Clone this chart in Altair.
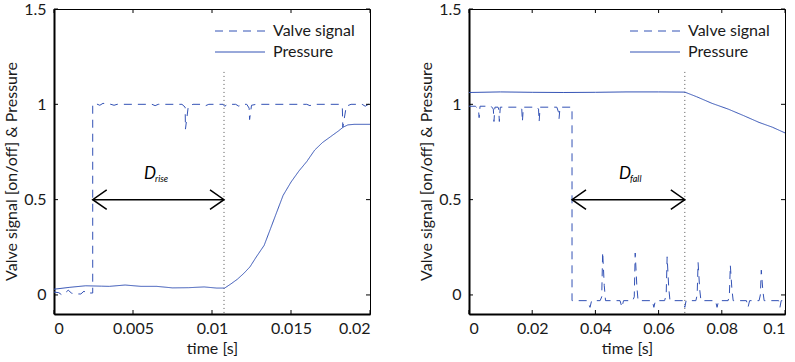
import altair as alt
import pandas as pd

BLUE = "#3352b5"
FONT = "Lato"
TXT = "#1a1a1a"
W, H = 316, 305

# ---------------- data ----------------
# left panel (rise)
lv_t = [0, 0.0003, 0.0005, 0.0007, 0.0009, 0.0011, 0.0013, 0.0017, 0.0019, 0.0021, 0.0023, 0.00245, 0.00245,
        0.0026, 0.0029, 0.0031, 0.0036, 0.0038, 0.004, 0.0062, 0.0064, 0.0066, 0.0081, 0.0083, 0.00832, 0.0085,
        0.0088, 0.0094, 0.0096, 0.0098, 0.0107, 0.0108, 0.011, 0.0115, 0.0117, 0.0119, 0.0122, 0.01235, 0.01238,
        0.0125, 0.0128, 0.016, 0.0162, 0.0164, 0.0181, 0.01825, 0.01828, 0.0185, 0.0188, 0.0195, 0.0197, 0.0199, 0.02]
lv_v = [0.015, 0.012, 0.0, 0.01, 0.025, 0.01, 0.005, 0.005, 0.02, 0.005, 0.01, 0.01, 1.0,
        1.005, 0.995, 1.005, 1.0, 0.995, 1.0, 1.0, 0.993, 1.0, 1.0, 0.985, 0.87, 0.99,
        1.0, 1.0, 0.993, 1.0, 1.0, 0.99, 1.0, 1.0, 0.99, 1.0, 1.0, 0.98, 0.92,
        0.995, 1.0, 1.0, 0.993, 1.0, 1.0, 0.98, 0.88, 0.99, 1.0, 1.0, 0.99, 1.0, 1.0]
lp_t = [0, 0.001, 0.002, 0.003, 0.0035, 0.0045, 0.0055, 0.0065, 0.0075, 0.0085, 0.0095, 0.0103, 0.0108,
        0.0112, 0.0116, 0.012, 0.0124, 0.0128, 0.0133, 0.0137, 0.0141, 0.0145, 0.015, 0.0155, 0.016, 0.0165,
        0.017, 0.0175, 0.018, 0.0183, 0.0186, 0.019, 0.02]
lp_v = [0.03, 0.04, 0.048, 0.046, 0.045, 0.052, 0.045, 0.045, 0.037, 0.038, 0.042, 0.036, 0.036,
        0.058, 0.082, 0.112, 0.147, 0.199, 0.26, 0.347, 0.435, 0.522, 0.592, 0.65, 0.70, 0.76,
        0.80, 0.83, 0.86, 0.88, 0.892, 0.895, 0.895]

# right panel (fall)
rv_t = [0, 0.002, 0.003, 0.0032, 0.0035, 0.007, 0.0077, 0.0079, 0.0082, 0.0092, 0.0094, 0.0096, 0.0099,
        0.0162, 0.0167, 0.0169, 0.0172, 0.0215, 0.022, 0.0222, 0.0225, 0.0278, 0.0283, 0.0285, 0.0288,
        0.0326, 0.0326,
        0.0375, 0.0383, 0.0388, 0.0415, 0.042, 0.0423, 0.0428, 0.0432,
        0.0478, 0.0484, 0.0489, 0.0518, 0.0523, 0.0526, 0.0531, 0.0535,
        0.058, 0.0585, 0.059, 0.0619, 0.0624, 0.0627, 0.0632, 0.0636,
        0.0678, 0.0683, 0.0687, 0.0718, 0.0722, 0.0725, 0.073, 0.0734,
        0.078, 0.0785, 0.079, 0.082, 0.0824, 0.0827, 0.0832, 0.0836,
        0.0878, 0.0883, 0.0888, 0.0918, 0.0922, 0.0925, 0.093, 0.0934,
        0.098, 0.0984, 0.0988, 0.1]
rv_v = [0.99, 0.99, 0.975, 0.93, 0.99, 0.99, 0.975, 0.91, 0.985, 0.985, 0.975, 0.91, 0.985,
        0.985, 0.975, 0.91, 0.985, 0.985, 0.975, 0.91, 0.985, 0.985, 0.96, 0.925, 0.985,
        0.985, -0.03,
        -0.03, -0.065, -0.03, -0.03, -0.01, 0.225, 0.05, -0.03,
        -0.03, -0.065, -0.03, -0.03, -0.01, 0.22, 0.05, -0.03,
        -0.03, -0.065, -0.03, -0.03, 0.0, 0.2, 0.04, -0.03,
        -0.03, -0.065, -0.03, -0.03, 0.0, 0.17, 0.03, -0.03,
        -0.03, -0.065, -0.03, -0.03, 0.0, 0.155, 0.03, -0.03,
        -0.03, -0.065, -0.03, -0.03, 0.0, 0.13, 0.02, -0.03,
        -0.03, -0.065, -0.03, -0.03]
rp_t = [0, 0.01, 0.02, 0.03, 0.04, 0.05, 0.06, 0.0683, 0.072, 0.0769, 0.082, 0.087, 0.0918, 0.096, 0.1]
rp_v = [1.062, 1.065, 1.063, 1.062, 1.063, 1.065, 1.065, 1.064, 1.04, 1.005, 0.975, 0.94, 0.905, 0.88, 0.85]

left_xticks = [0, 0.005, 0.01, 0.015, 0.02]
right_xticks = [0, 0.02, 0.04, 0.06, 0.08, 0.1]
yticks = [0, 0.5, 1, 1.5]

left_delay = [0.00245, 0.01076]
right_delay = [0.0326, 0.0683]
left_label_t = 0.0057
right_label_t = 0.0475
label_v = 0.607
arrow_v = 0.5
marker_top = 1.17

SERIES = ["Valve signal", "Pressure"]
LEFT_HEAD = "M2,-1.4L0,0L2,1.4"
RIGHT_HEAD = "M-2,-1.4L0,0L-2,1.4"
LEGEND_LINE = "M-5,0L5,0"


def panel(v_t, v_v, p_t, p_v, xmax, xticks, delay, label_t, sub):
    rows = []
    for i, (t, v) in enumerate(zip(v_t, v_v)):
        rows.append({"t": t, "v": v, "series": SERIES[0], "i": i})
    for i, (t, v) in enumerate(zip(p_t, p_v)):
        rows.append({"t": t, "v": v, "series": SERIES[1], "i": i})
    df = pd.DataFrame(rows)

    xax = alt.Axis(values=xticks, format="~g", title="time [s]", ticks=False, tickSize=0,
                   grid=False, labelPadding=6, titlePadding=4)
    yax = alt.Axis(values=yticks, format="~g", title="Valve signal [on/off] & Pressure",
                   ticks=False, tickSize=0, grid=False, labelPadding=8, titlePadding=4, titleY=162)
    X = lambda f="t": alt.X(f"{f}:Q", scale=alt.Scale(domain=[0, xmax], nice=False, zero=False), axis=xax)
    Y = lambda f="v": alt.Y(f"{f}:Q", scale=alt.Scale(domain=[-0.1, 1.5], nice=False, zero=False), axis=yax)

    lines = alt.Chart(df).mark_line(color=BLUE, strokeWidth=1, clip=True).encode(
        x=X(), y=Y(),
        strokeDash=alt.StrokeDash("series:N",
                                  scale=alt.Scale(domain=SERIES, range=[[8, 6], [1, 0]]),
                                  legend=alt.Legend(title=None, orient="none", legendX=178, legendY=14,
                                                    symbolType=LEGEND_LINE, symbolSize=100,
                                                    symbolStrokeWidth=1, symbolStrokeColor=BLUE,
                                                    symbolFillColor="transparent",
                                                    labelFont=FONT, labelFontSize=16, labelColor=TXT,
                                                    labelOffset=25, rowPadding=5, padding=0)),
        detail="series:N",
        order="i:Q",
    )

    mk = pd.DataFrame({"t": [delay[1]], "v": [marker_top], "v2": [-0.1]})
    marker = alt.Chart(mk).mark_rule(color="#555555", strokeDash=[1, 3], strokeWidth=1).encode(
        x=X(), y=Y(), y2="v2:Q")

    ar = pd.DataFrame({"t": [delay[0]], "t2": [delay[1]], "v": [arrow_v]})
    arrow = alt.Chart(ar).mark_rule(color="black", strokeWidth=1.5).encode(x=X(), x2="t2:Q", y=Y())
    h1 = alt.Chart(pd.DataFrame({"t": [delay[0]], "v": [arrow_v]})).mark_point(
        shape=LEFT_HEAD, size=196, filled=False, color="black", strokeWidth=1.5, opacity=1).encode(x=X(), y=Y())
    h2 = alt.Chart(pd.DataFrame({"t": [delay[1]], "v": [arrow_v]})).mark_point(
        shape=RIGHT_HEAD, size=196, filled=False, color="black", strokeWidth=1.5, opacity=1).encode(x=X(), y=Y())

    lab = pd.DataFrame({"t": [label_t], "v": [label_v], "txt": ["D"], "sub": [sub]})
    dtext = alt.Chart(lab).mark_text(font=FONT, fontStyle="italic", fontSize=17, align="left",
                                     baseline="alphabetic", color="black").encode(x=X(), y=Y(), text="txt:N")
    stext = alt.Chart(lab).mark_text(font=FONT, fontStyle="italic", fontSize=9, align="left",
                                     baseline="alphabetic", color="black", dx=11, dy=3).encode(
        x=X(), y=Y(), text="sub:N")

    xt = pd.DataFrame({"t": xticks})
    yt = pd.DataFrame({"v": yticks})
    tb = alt.Chart(xt).mark_rule(color="black", strokeWidth=1).encode(x=X(), y=alt.value(H), y2=alt.value(H - 4))
    tt = alt.Chart(xt).mark_rule(color="black", strokeWidth=1).encode(x=X(), y=alt.value(0), y2=alt.value(4))
    tl = alt.Chart(yt).mark_rule(color="black", strokeWidth=1).encode(y=Y(), x=alt.value(0), x2=alt.value(4))
    tr = alt.Chart(yt).mark_rule(color="black", strokeWidth=1).encode(y=Y(), x=alt.value(W), x2=alt.value(W - 4))

    return alt.layer(marker, lines, arrow, h1, h2, dtext, stext, tb, tt, tl, tr).properties(width=W, height=H)


left = panel(lv_t, lv_v, lp_t, lp_v, 0.02, left_xticks, left_delay, left_label_t, "rise")
right = panel(rv_t, rv_v, rp_t, rp_v, 0.1, right_xticks, right_delay, right_label_t, "fall")

chart = alt.hconcat(left, right, spacing=99, bounds="flush").resolve_scale(
    strokeDash="independent").resolve_legend(strokeDash="independent").properties(
    padding={"left": 3, "top": 0, "right": 0, "bottom": 0}, background="white"
).configure_view(stroke="black", strokeWidth=1).configure_axis(
    domainColor="black", domainWidth=2, labelFont=FONT, titleFont=FONT, labelFontSize=16,
    titleFontSize=16, labelColor=TXT, titleColor=TXT, titleFontWeight="normal"
)

chart.save("out.html", embed_options={"renderer": "svg", "actions": False})
